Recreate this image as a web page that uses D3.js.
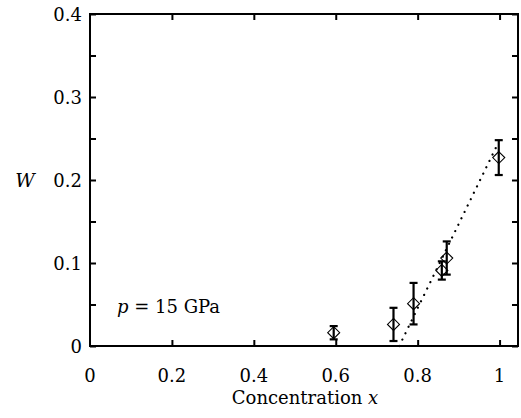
<!DOCTYPE html>
<html>
<head>
<meta charset="utf-8">
<script src="https://cdn.jsdelivr.net/npm/d3@7"></script>
<style>
  body { margin: 0; background: #fff; }
</style>
</head>
<body>
<div id="chart"></div>
<script>
// values
var conc   = [0.595, 0.741, 0.790, 0.859, 0.871, 0.998];
var wVal   = [0.016, 0.026, 0.051, 0.091, 0.106, 0.227];
var wErr   = [0.008, 0.020, 0.025, 0.011, 0.020, 0.021];
var fitX   = [0.755, 0.998];
var fitW   = [0.000, 0.246];
var xTicks = [0.2, 0.4, 0.6, 0.8, 1];
var yTicks = [0, 0.1, 0.2, 0.3, 0.4];
var yMinor = [0.05, 0.15, 0.25, 0.35];

var W = 521, H = 418;
var margin = {top: 14, right: 3, bottom: 72, left: 90},
    width = W - margin.left - margin.right,
    height = H - margin.top - margin.bottom;

var font = "DejaVu Serif";

var svg = d3.select("#chart")
  .append("svg")
    .attr("width", W)
    .attr("height", H)
  .append("g")
    .attr("transform", "translate(" + margin.left + "," + margin.top + ")");

var x = d3.scaleLinear().domain([0, 1.045]).range([0, width]);
var y = d3.scaleLinear().domain([0, 0.4]).range([height, 0]);

var tickLen = 6;

// ticks pointing inwards on every side
svg.append("g")
  .attr("transform", "translate(0," + height + ")")
  .call(d3.axisBottom(x).tickValues(xTicks).tickSize(-tickLen).tickFormat(""));
svg.append("g")
  .call(d3.axisTop(x).tickValues(xTicks).tickSize(-tickLen).tickFormat(""));
svg.append("g")
  .call(d3.axisLeft(y).tickValues(yTicks.concat(yMinor)).tickSize(-tickLen).tickFormat(""));
svg.append("g")
  .attr("transform", "translate(" + width + ",0)")
  .call(d3.axisRight(y).tickValues(yTicks.concat(yMinor)).tickSize(-tickLen).tickFormat(""));

svg.selectAll(".domain").remove();
svg.selectAll(".tick line").attr("stroke", "#000").attr("stroke-width", 2);

// frame
svg.append("rect")
  .attr("x", 0).attr("y", 0)
  .attr("width", width).attr("height", height)
  .attr("fill", "none")
  .attr("stroke", "#000")
  .attr("stroke-width", 2);

// tick labels
svg.append("g").selectAll("text")
  .data([0].concat(xTicks))
  .enter().append("text")
    .attr("x", d => x(d))
    .attr("y", height + 36)
    .attr("text-anchor", "middle")
    .attr("font-size", 18)
    .text(d => d);

svg.append("g").selectAll("text")
  .data(yTicks)
  .enter().append("text")
    .attr("x", -8)
    .attr("y", d => y(d) + 7)
    .attr("text-anchor", "end")
    .attr("font-size", 18)
    .text(d => d);

// axis titles
var xt = svg.append("text")
  .attr("x", x(0.525))
  .attr("y", height + 58)
  .attr("text-anchor", "middle")
  .attr("font-size", 18);
xt.append("tspan").text("Concentration ");
xt.append("tspan").attr("font-style", "italic").text("x");

svg.append("text")
  .attr("x", -65)
  .attr("y", y(0.2) + 7)
  .attr("text-anchor", "middle")
  .attr("font-size", 19)
  .attr("font-style", "italic")
  .text("W");

var ann = svg.append("text")
  .attr("x", 27)
  .attr("y", y(0.05) + 8)
  .attr("font-size", 18);
ann.append("tspan").attr("font-style", "italic").text("p");
ann.append("tspan").text(" = 15 GPa");

svg.selectAll("text").attr("font-family", font).attr("fill", "#000");

// dotted fit line
var fit = fitX.map((d, i) => [d, fitW[i]]);
svg.append("path")
  .datum(fit)
  .attr("d", d3.line().x(d => x(d[0])).y(d => y(d[1])))
  .attr("fill", "none")
  .attr("stroke", "#000")
  .attr("stroke-width", 2.2)
  .attr("stroke-linecap", "round")
  .attr("stroke-dasharray", "0.1,7");

var pts = conc.map((d, i) => ({x: d, w: wVal[i], e: wErr[i]}));

// error bars
var eb = svg.append("g").selectAll("g")
  .data(pts)
  .enter().append("g")
    .attr("stroke", "#000")
    .attr("stroke-width", 2.2);
eb.append("line")
  .attr("x1", d => x(d.x)).attr("x2", d => x(d.x))
  .attr("y1", d => y(d.w - d.e)).attr("y2", d => y(d.w + d.e));
eb.append("line")
  .attr("x1", d => x(d.x) - 4).attr("x2", d => x(d.x) + 4)
  .attr("y1", d => y(d.w - d.e)).attr("y2", d => y(d.w - d.e));
eb.append("line")
  .attr("x1", d => x(d.x) - 4).attr("x2", d => x(d.x) + 4)
  .attr("y1", d => y(d.w + d.e)).attr("y2", d => y(d.w + d.e));

// open diamonds
svg.append("g").selectAll("path")
  .data(pts)
  .enter().append("path")
    .attr("transform", d => "translate(" + x(d.x) + "," + y(d.w) + ")")
    .attr("d", "M0,-6L6,0L0,6L-6,0Z")
    .attr("fill", "none")
    .attr("stroke", "#000")
    .attr("stroke-width", 1.1);
</script>
</body>
</html>
